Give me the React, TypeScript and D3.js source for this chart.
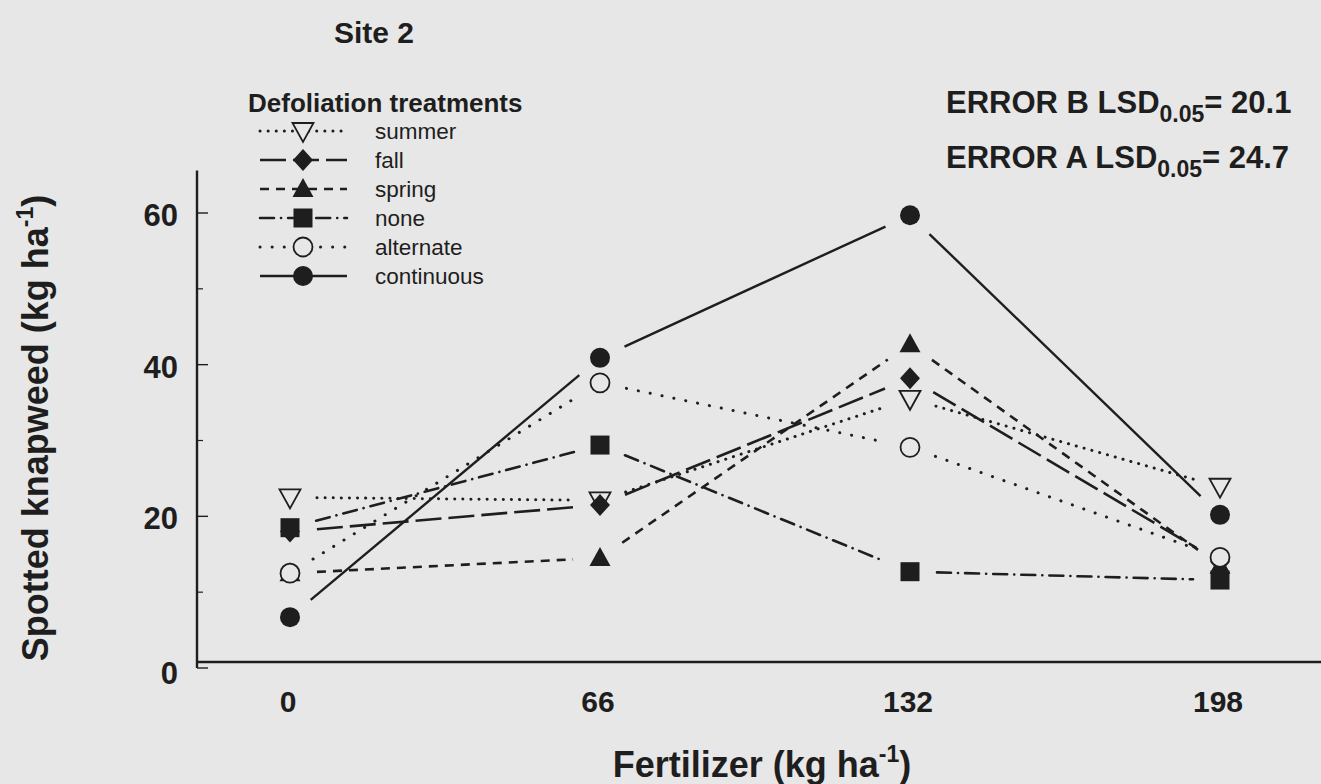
import React from "react";
import * as d3 from "d3";

const fertilizer = [0, 66, 132, 198];
const seriesNames = ["summer", "fall", "spring", "none", "alternate", "continuous"];
const summer = [22.5, 22.1, 35.5, 23.9];
const fall = [18.0, 21.5, 38.2, 14.0];
const spring = [12.5, 14.5, 42.7, 13.5];
const none = [18.5, 29.4, 12.7, 11.6];
const alternate = [12.5, 37.6, 29.1, 14.6];
const continuous = [6.7, 40.9, 59.7, 20.2];
const yTicks = [0, 20, 40, 60];
const yMinor = [10, 30, 50];

const W = 1321;
const H = 784;
const BG = "#e7e7e7";
const INK = "#1e1e1e";
const FONT = "'Liberation Sans', Arial, Helvetica, sans-serif";

type Style = { dash: string; cap: "round" | "butt"; width: number; marker: string };
const styles: Record<string, Style> = {
  summer: { dash: "0.1,8", cap: "round", width: 3, marker: "triDown" },
  fall: { dash: "26,7", cap: "butt", width: 2.6, marker: "diamond" },
  spring: { dash: "9,7", cap: "butt", width: 2.6, marker: "triUp" },
  none: { dash: "14,7,0.1,7", cap: "round", width: 2.6, marker: "square" },
  alternate: { dash: "0.1,12", cap: "round", width: 3, marker: "openCircle" },
  continuous: { dash: "", cap: "butt", width: 2.4, marker: "circle" },
};
const values: Record<string, number[]> = { summer, fall, spring, none, alternate, continuous };

const x = d3.scaleLinear().domain([0, 198]).range([290, 1220]);
const y = d3.scaleLinear().domain([0, 60]).range([668, 213]);

function Marker({ type, cx, cy }: { type: string; cx: number; cy: number }) {
  switch (type) {
    case "triDown": {
      const p = d3.path();
      p.moveTo(cx - 10.5, cy - 8);
      p.lineTo(cx + 10.5, cy - 8);
      p.lineTo(cx, cy + 11);
      p.closePath();
      return <path d={p.toString()} fill={BG} stroke={INK} strokeWidth={1.8} />;
    }
    case "triUp": {
      const p = d3.path();
      p.moveTo(cx - 10.5, cy + 8);
      p.lineTo(cx + 10.5, cy + 8);
      p.lineTo(cx, cy - 11);
      p.closePath();
      return <path d={p.toString()} fill={INK} />;
    }
    case "diamond": {
      const p = d3.path();
      p.moveTo(cx, cy - 11);
      p.lineTo(cx + 10, cy);
      p.lineTo(cx, cy + 11);
      p.lineTo(cx - 10, cy);
      p.closePath();
      return <path d={p.toString()} fill={INK} />;
    }
    case "square":
      return <rect x={cx - 9.5} y={cy - 9.5} width={19} height={19} fill={INK} />;
    case "openCircle":
      return <circle cx={cx} cy={cy} r={9.5} fill={BG} stroke={INK} strokeWidth={1.8} />;
    default:
      return <circle cx={cx} cy={cy} r={10} fill={INK} />;
  }
}

function trimmedSegments(pts: [number, number][], trim: number) {
  const segs: [number, number, number, number][] = [];
  for (let i = 0; i < pts.length - 1; i++) {
    const [x1, y1] = pts[i];
    const [x2, y2] = pts[i + 1];
    const len = Math.hypot(x2 - x1, y2 - y1);
    const ux = (x2 - x1) / len;
    const uy = (y2 - y1) / len;
    segs.push([x1 + ux * trim, y1 + uy * trim, x2 - ux * trim, y2 - uy * trim]);
  }
  return segs;
}

export default function App() {
  const legendX0 = 260;
  const legendX1 = 347;
  const legendMX = 303;
  const legendY0 = 131;
  const legendDY = 29;

  return (
    <svg width={W} height={H} style={{ position: "absolute", left: 0, top: 0, display: "block" }} fontFamily={FONT}>
      <rect x={0} y={0} width={W} height={H} fill={BG} />

      {/* title */}
      <text x={334} y={43} fontSize={30} fontWeight="bold" fill={INK}>Site 2</text>

      {/* error text */}
      <text x={946} y={113} fontSize={31} fontWeight="bold" fill={INK}>
        ERROR B LSD<tspan dy={9} fontSize={23}>0.05</tspan><tspan dy={-9}>= 20.1</tspan>
      </text>
      <text x={946} y={168} fontSize={31} fontWeight="bold" fill={INK}>
        ERROR A LSD<tspan dy={9} fontSize={23}>0.05</tspan><tspan dy={-9}>= 24.7</tspan>
      </text>

      {/* axes */}
      <line x1={197} y1={y(65.6)} x2={197} y2={y(0)} stroke={INK} strokeWidth={2.4} />
      <line x1={196} y1={y(0) - 6} x2={W} y2={y(0) - 6} stroke={INK} strokeWidth={2.4} />
      {yTicks.map((t) => (
        <line key={"mt" + t} x1={197} x2={208} y1={y(t)} y2={y(t)} stroke={INK} strokeWidth={1.4} />
      ))}
      {yMinor.map((t) => (
        <line key={"mn" + t} x1={197} x2={203} y1={y(t)} y2={y(t)} stroke={INK} strokeWidth={1.2} />
      ))}
      {yTicks.map((t) => (
        <text key={"yl" + t} x={178} y={y(t) + (t === 0 ? 5 : 2)} dy="0.36em" textAnchor="end" fontSize={31} fontWeight="bold" fill={INK}>
          {t}
        </text>
      ))}
      {fertilizer.map((f) => (
        <text key={"xl" + f} x={x(f) - 2} y={712} textAnchor="middle" fontSize={30} fontWeight="bold" fill={INK}>
          {f}
        </text>
      ))}

      {/* axis titles */}
      <text x={762} y={777} textAnchor="middle" fontSize={36} fontWeight="bold" fill={INK}>
        Fertilizer (kg ha<tspan dy={-15} fontSize={23}>-1</tspan><tspan dy={15}>)</tspan>
      </text>
      <text transform={`translate(48,${428}) rotate(-90)`} textAnchor="middle" fontSize={36} fontWeight="bold" fill={INK}>
        Spotted knapweed (kg ha<tspan dy={-15} fontSize={23}>-1</tspan><tspan dy={15}>)</tspan>
      </text>

      {/* lines */}
      {seriesNames.map((name) => {
        const st = styles[name];
        const pts = fertilizer.map((f, i) => [x(f), y(values[name][i])] as [number, number]);
        return (
          <g key={"l" + name}>
            {trimmedSegments(pts, 27).map((s, i) => (
              <line
                key={i}
                x1={s[0]}
                y1={s[1]}
                x2={s[2]}
                y2={s[3]}
                stroke={INK}
                strokeWidth={st.width}
                strokeDasharray={st.dash || undefined}
                strokeLinecap={st.cap}
              />
            ))}
          </g>
        );
      })}

      {/* markers */}
      {seriesNames.map((name) => (
        <g key={"m" + name}>
          {fertilizer.map((f, i) => (
            <Marker key={i} type={styles[name].marker} cx={x(f)} cy={y(values[name][i])} />
          ))}
        </g>
      ))}

      {/* legend */}
      <text x={248} y={112} fontSize={26} fontWeight="bold" fill={INK}>Defoliation treatments</text>
      {seriesNames.map((name, i) => {
        const st = styles[name];
        const ly = legendY0 + i * legendDY;
        return (
          <g key={"lg" + name}>
            <line
              x1={legendX0}
              x2={legendX1}
              y1={ly}
              y2={ly}
              stroke={INK}
              strokeWidth={st.width}
              strokeDasharray={st.dash || undefined}
              strokeLinecap={st.cap}
            />
            <Marker type={st.marker} cx={legendMX} cy={ly} />
            <text x={375} y={ly} dy="0.36em" fontSize={22.5} fill={INK}>{name}</text>
          </g>
        );
      })}
    </svg>
  );
}
